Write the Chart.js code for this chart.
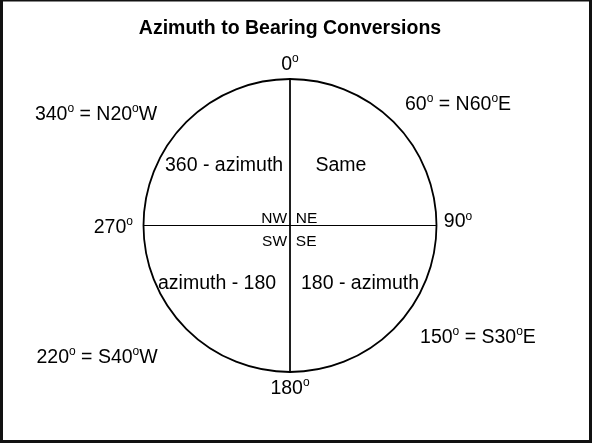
<!DOCTYPE html>
<html>
<head>
<meta charset="utf-8">
<script src="https://cdn.jsdelivr.net/npm/chart.js@4/dist/chart.umd.min.js"></script>
<style>
  html, body { margin: 0; padding: 0; background: #fff; }
  #wrap { width: 592px; height: 444px; }
</style>
</head>
<body>
<div id="wrap"><canvas id="compassChart" width="592" height="444"></canvas></div>
<script>
// Diagram content
const chartTitle = 'Azimuth to Bearing Conversions';
const circleRadius = 1;
const cardinalLabels = ['0º', '90º', '180º', '270º'];
const exampleLabels = ['60º = N60ºE', '150º = S30ºE', '220º = S40ºW', '340º = N20ºW'];
const quadrantRules = ['Same', '180 - azimuth', 'azimuth - 180', '360 - azimuth'];
const quadrantNames = ['NE', 'SE', 'SW', 'NW'];

document.addEventListener('DOMContentLoaded', function() {
    const font = 'Liberation Sans, Arial, sans-serif';

    // where each label sits, in circle units (x, y, align)
    const cardinalSpots = [[0, 1.109, 'center'], [1.05, 0.037, 'left'], [0, -1.102, 'center'], [-1.072, -0.003, 'right']];
    const exampleSpots = [[1.147, 0.836, 'center'], [1.283, -0.754, 'center'], [-1.317, -0.891, 'center'], [-1.324, 0.768, 'center']];
    const ruleSpots = [[0.348, 0.42, 'center'], [0.478, -0.384, 'center'], [-0.498, -0.384, 'center'], [-0.45, 0.42, 'center']];
    const nameSpots = [[0.04, 0.06, 'left'], [0.04, -0.094, 'left'], [-0.02, -0.094, 'right'], [-0.02, 0.06, 'right']];

    // text with the "º" drawn as a small raised o
    function drawRich(ctx, text, x, y, align, size) {
        const parts = text.split('º');
        const supSize = Math.round(size * 0.62);
        y += 2;
        let widths = [];
        let total = 0;
        parts.forEach(function(p, i) {
            ctx.font = size + 'px ' + font;
            const w = ctx.measureText(p).width;
            widths.push(w);
            total += w;
            if (i < parts.length - 1) {
                ctx.font = supSize + 'px ' + font;
                total += ctx.measureText('o').width;
            }
        });
        let cx = align === 'center' ? x - total / 2 : (align === 'right' ? x - total : x);
        ctx.textAlign = 'left';
        ctx.textBaseline = 'middle';
        parts.forEach(function(p, i) {
            ctx.font = size + 'px ' + font;
            ctx.fillText(p, cx, y);
            cx += widths[i];
            if (i < parts.length - 1) {
                ctx.font = supSize + 'px ' + font;
                ctx.fillText('o', cx, y - size * 0.3);
                cx += ctx.measureText('o').width;
            }
        });
    }

    const compassPlugin = {
        id: 'compass',
        afterDatasetsDraw: function(chart) {
            const ctx = chart.ctx;
            const xs = chart.scales.x;
            const ys = chart.scales.y;
            const cx = xs.getPixelForValue(0);
            const cy = ys.getPixelForValue(0);
            const rx = xs.getPixelForValue(circleRadius) - cx;
            const ry = cy - ys.getPixelForValue(circleRadius);
            ctx.save();
            ctx.strokeStyle = '#000';
            ctx.lineWidth = 1.8;
            ctx.beginPath();
            ctx.ellipse(cx, cy, rx, ry, 0, 0, Math.PI * 2);
            ctx.stroke();

            ctx.fillStyle = '#000';
            function put(list, spots, size) {
                list.forEach(function(t, i) {
                    const s = spots[i];
                    drawRich(ctx, t, xs.getPixelForValue(s[0] * circleRadius), ys.getPixelForValue(s[1] * circleRadius), s[2], size);
                });
            }
            put(cardinalLabels, cardinalSpots, 19.5);
            put(exampleLabels, exampleSpots, 19.5);
            put(quadrantRules, ruleSpots, 19.5);
            put(quadrantNames, nameSpots, 15.5);

            // frame
            ctx.fillStyle = '#111';
            ctx.fillRect(0, 0, 3, 443);
            ctx.fillRect(0, 0, 592, 1.5);
            ctx.fillRect(589, 0, 3, 443);
            ctx.fillRect(0, 440, 592, 3);
            ctx.restore();
        }
    };

    const ctx = document.getElementById('compassChart').getContext('2d');
    new Chart(ctx, {
        type: 'scatter',
        data: {
            datasets: [{
                label: 'N-S',
                data: [{ x: 0, y: circleRadius }, { x: 0, y: -circleRadius }],
                showLine: true,
                borderColor: '#000',
                borderWidth: 1,
                pointRadius: 0
            }, {
                label: 'E-W',
                data: [{ x: -circleRadius, y: 0 }, { x: circleRadius, y: 0 }],
                showLine: true,
                borderColor: '#000',
                borderWidth: 1,
                pointRadius: 0
            }]
        },
        options: {
            responsive: false,
            animation: false,
            events: [],
            layout: { padding: { left: 0, right: 12, top: 0, bottom: 0 }, autoPadding: false },
            scales: {
                x: { type: 'linear', min: -1.9795, max: 1.9795, display: false },
                y: { type: 'linear', min: -1.4915, max: 1.2526, display: false }
            },
            plugins: {
                legend: { display: false },
                tooltip: { enabled: false },
                title: {
                    display: true,
                    text: chartTitle,
                    color: '#000',
                    font: { family: font, size: 19.5, weight: 'bold' },
                    padding: { top: 17.3, bottom: 1.3 }
                }
            }
        },
        plugins: [compassPlugin]
    });
});
</script>
</body>
</html>
